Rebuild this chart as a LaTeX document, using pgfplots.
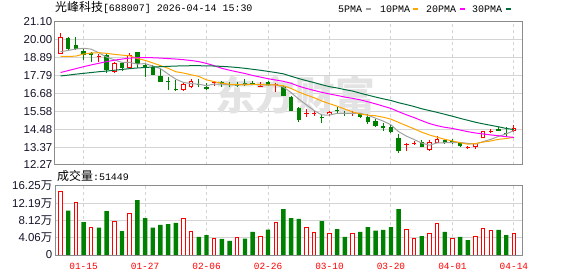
\documentclass[border=0pt]{standalone}
\usepackage{fontspec}
\setmainfont{Liberation Sans}
\newfontfamily\cjk{Noto Sans CJK SC}
\newfontfamily\mono{Liberation Mono}
\usepackage{pgfplots}
\usepackage{pgfplotstable}
\pgfplotsset{compat=1.18}

\definecolor{upred}{RGB}{255,0,0}
\definecolor{downgreen}{RGB}{0,128,0}
\definecolor{maGray}{RGB}{160,160,160}
\definecolor{maOrange}{RGB}{255,165,0}
\definecolor{maPink}{RGB}{255,0,255}
\definecolor{maGreen}{RGB}{0,110,60}
\definecolor{framec}{RGB}{140,140,140}
\definecolor{gridc}{RGB}{212,212,212}
\definecolor{labc}{RGB}{20,20,40}
\definecolor{wmark}{RGB}{227,227,227}

% daily candles: x = trading-day index, o h l c
% falling days (filled green)
\pgfplotstableread{
x  o     h     l     c
1  20.07 20.12 19.35 19.39
2  19.65 20.17 19.35 19.39
3  19.30 19.39 18.73 19.04
4  19.14 19.20 18.63 19.04
6  19.04 19.14 17.95 18.12
8  18.53 18.63 18.05 18.22
10 19.20 19.22 18.22 18.48
11 18.42 18.53 17.67 18.26
12 18.32 18.42 17.78 17.81
13 17.75 18.16 17.38 17.40
14 17.43 17.70 16.89 17.40
15 16.97 17.50 16.85 16.87
18 17.26 17.54 17.05 17.22
19 17.05 17.30 16.89 16.95
21 17.40 17.42 17.10 17.25
22 17.27 17.40 17.10 17.23
23 17.22 17.35 17.05 17.18
24 17.34 17.55 17.15 17.21
25 17.30 17.42 17.20 17.25
27 17.40 17.46 17.13 17.19
29 17.05 17.12 16.50 16.52
30 16.47 16.52 15.58 15.61
31 15.76 15.86 14.94 15.04
34 15.20 15.40 14.85 15.16
36 15.66 15.84 15.48 15.62
37 15.48 15.62 15.30 15.45
39 15.45 15.50 15.18 15.24
40 15.24 15.40 14.80 14.90
41 15.00 15.10 14.60 14.70
42 14.70 14.85 14.35 14.53
43 14.62 14.75 14.22 14.32
44 13.91 14.16 13.03 13.15
47 13.70 13.80 13.36 13.40
50 13.81 13.85 13.55 13.61
51 13.72 13.85 13.55 13.68
52 13.64 13.70 13.40 13.46
57 14.48 14.58 14.38 14.38
58 14.21 14.60 14.01 14.18
}\fallC

% rising days with a visible body (hollow red)
\pgfplotstableread{
x  o     h     l     c
0  19.10 20.37 19.09 20.13
7  18.01 18.63 17.95 18.53
9  18.26 19.14 18.22 19.04
16 16.89 17.33 16.84 17.25
17 17.05 17.54 16.99 17.46
35 15.40 15.62 15.30 15.56
48 13.19 13.81 13.15 13.70
49 13.61 14.06 13.60 13.85
54 13.40 13.62 13.25 13.61
55 13.91 14.38 13.91 14.38
59 14.38 14.73 14.32 14.53
}\riseC

% rising days that close almost at the open (red cross)
\pgfplotstableread{
x  o     h     l     c
5  18.95 19.08 18.63 18.98
20 17.33 17.46 17.15 17.36
26 17.10 17.35 17.05 17.13
28 17.20 17.34 16.78 17.23
32 15.45 15.70 15.22 15.48
33 15.43 15.60 15.30 15.46
38 15.43 15.62 15.30 15.46
45 13.53 13.62 13.15 13.56
46 13.62 13.77 13.50 13.65
53 13.35 13.42 13.28 13.38
56 14.35 14.47 14.22 14.38
}\flatC

% moving averages
\pgfplotstableread{
x  ma5   ma10  ma20  ma30
0  19.24 18.95 17.96 17.75
1  19.32 18.95 18.08 17.80
2  19.41 18.97 18.20 17.86
3  19.45 19.10 18.32 17.91
4  19.40 19.16 18.43 17.96
5  19.17 19.18 18.53 18.01
6  18.91 19.14 18.63 18.05
7  18.74 19.08 18.72 18.10
8  18.58 19.03 18.79 18.15
9  18.58 18.99 18.85 18.20
10 18.48 18.82 18.87 18.24
11 18.51 18.71 18.88 18.27
12 18.36 18.55 18.87 18.30
13 18.20 18.39 18.85 18.32
14 17.87 18.22 18.82 18.34
15 17.55 18.01 18.79 18.36
16 17.35 17.93 18.75 18.37
17 17.28 17.82 18.70 18.38
18 17.24 17.72 18.63 18.38
19 17.15 17.51 18.52 18.37
20 17.25 17.40 18.38 18.36
21 17.25 17.30 18.22 18.34
22 17.20 17.24 18.10 18.31
23 17.19 17.22 18.00 18.27
24 17.25 17.20 17.90 18.22
25 17.22 17.24 17.78 18.16
26 17.20 17.22 17.68 18.10
27 17.19 17.20 17.58 18.03
28 17.20 17.20 17.50 17.96
29 17.06 17.15 17.42 17.88
30 16.73 16.98 17.30 17.73
31 16.32 16.76 17.12 17.59
32 15.97 16.58 16.98 17.46
33 15.62 16.41 16.86 17.34
34 15.35 16.21 16.74 17.21
35 15.34 16.04 16.64 17.09
36 15.45 15.89 16.55 17.01
37 15.45 15.71 16.45 16.91
38 15.45 15.53 16.37 16.82
39 15.46 15.41 16.28 16.69
40 15.33 15.34 16.16 16.57
41 15.15 15.30 16.03 16.45
42 14.97 15.21 15.89 16.34
43 14.74 15.09 15.75 16.24
44 14.32 14.89 15.55 16.10
45 14.05 14.69 15.36 15.99
46 13.84 14.50 15.19 15.87
47 13.62 14.29 15.00 15.73
48 13.49 14.12 14.82 15.62
49 13.63 13.98 14.69 15.51
50 13.64 13.85 14.59 15.39
51 13.65 13.75 14.52 15.27
52 13.66 13.64 14.42 15.14
53 13.60 13.55 14.32 15.02
54 13.56 13.59 14.24 14.90
55 13.71 13.68 14.18 14.80
56 13.85 13.75 14.12 14.71
57 14.03 13.85 14.07 14.62
58 14.19 13.90 14.01 14.52
59 14.38 13.97 13.97 14.45
}\maTab

% volume in units of 10^4
\pgfplotstableread{
x  v
0  15.07
2  12.41
4  6.59
7  8.00
9  9.81
16 8.64
17 5.57
20 3.77
23 4.16
26 4.47
28 7.77
32 6.52
33 5.34
35 5.10
38 5.10
45 6.12
46 4.00
48 5.10
49 7.46
51 3.92
54 4.24
55 6.28
56 5.81
59 5.1449
}\volRise

\pgfplotstableread{
x  v
1  10.43
3  7.77
5  6.43
6  10.36
8  5.65
10 12.95
11 8.71
12 6.43
13 7.07
14 7.30
15 7.54
18 4.24
19 4.71
21 3.77
22 3.30
24 3.84
25 5.42
27 5.96
29 10.83
30 8.71
31 8.48
34 8.00
36 6.12
37 4.24
39 5.42
40 6.59
41 5.73
42 5.89
43 6.59
44 10.83
47 4.47
50 5.42
52 4.24
53 3.53
57 5.89
58 4.71
}\volFall

\pgfplotsset{
  panel/.style={
    scale only axis, width=467bp,
    xmin=-0.72, xmax=60.05,
    axis line style={draw=framec, line width=1bp},
    major tick length=0pt,
    xtick={3,11,19,27,35,43,51,59},
    xmajorgrids, ymajorgrids,
    x grid style={gridc, line width=1bp, dash pattern=on 3bp off 3bp},
    y grid style={gridc, line width=1bp},
    yticklabel style={font=\fontsize{11.5}{12}\selectfont, text=labc,
      anchor=east, inner sep=0pt, xshift=-2.5bp},
  },
  % a vertical stick from each point, no marker and no connecting line
  stick/.style 2 args={draw=none, no markers,
    error bars/.cd, y dir=plus, y explicit, error mark=none,
    error bar style={line width=#2, draw=#1, line cap=butt}},
  hollowinside/.style={draw=none, no markers,
    error bars/.cd, y dir=plus, y explicit, error mark=none,
    error bar style={line width=2.4bp, draw=white, line cap=butt,
      shorten <=1bp, shorten >=1bp}},
}

\begin{document}
\begin{tikzpicture}
\useasboundingbox (0,0) rectangle (578bp,276bp);

% heading
\node[anchor=base west, inner sep=0pt, text=black] at (55bp,264bp)
  {{\cjk\fontsize{12}{12}\selectfont 光峰科技}{\mono\fontsize{10}{10}\selectfont [688007] 2026-04-14 15:30}};

% moving-average key
\begin{scope}[every node/.style={anchor=base west, inner sep=0pt, font=\mono\fontsize{10}{10}\selectfont}]
  \node at (338bp,263bp) {5PMA};
  \fill[maGray] (366bp,265.5bp) rectangle (371bp,268bp);
  \node at (380bp,263bp) {10PMA};
  \fill[maOrange] (413bp,265.5bp) rectangle (418bp,268bp);
  \node at (426bp,263bp) {20PMA};
  \fill[maPink] (460bp,265.5bp) rectangle (465bp,268bp);
  \node at (472bp,263bp) {30PMA};
  \fill[maGreen] (506bp,265.5bp) rectangle (511bp,268bp);
\end{scope}

% price panel
\begin{axis}[panel, at={(55bp,111bp)}, anchor=south west, height=143.5bp,
  ymin=12.27, ymax=21.10,
  xticklabels={},
  ytick={12.27,13.37375,14.4775,15.58125,16.685,17.78875,18.8925,19.99625,21.10},
  yticklabels={12.27,13.37,14.48,15.58,16.68,17.79,18.89,20.00,21.10},
]
  \node[text=wmark, font=\cjk\bfseries\fontsize{40}{40}\selectfont, inner sep=0pt]
    at (rel axis cs:0.515,0.49) {东方财富};

  % wicks
  \addplot[stick={downgreen}{1bp}] table[x=x, y=l, y error expr=\thisrow{h}-\thisrow{l}] {\fallC};
  \addplot[stick={upred}{1bp}] table[x=x, y=l, y error expr=\thisrow{h}-\thisrow{l}] {\riseC};
  \addplot[stick={upred}{1bp}] table[x=x, y=l, y error expr=\thisrow{h}-\thisrow{l}] {\flatC};
  % bodies
  \addplot[stick={downgreen}{4.4bp}] table[x=x, y=c, y error expr=\thisrow{o}-\thisrow{c}] {\fallC};
  \addplot[stick={upred}{4.4bp}] table[x=x, y=o, y error expr=\thisrow{c}-\thisrow{o}] {\flatC};
  \addplot[stick={upred}{4.4bp}] table[x=x, y=o, y error expr=\thisrow{c}-\thisrow{o}] {\riseC};
  \addplot[hollowinside] table[x=x, y=o, y error expr=\thisrow{c}-\thisrow{o}] {\riseC};

  % averages
  \addplot[maGray, line width=1bp, mark=none] table[x=x, y=ma5] {\maTab};
  \addplot[maOrange, line width=1bp, mark=none] table[x=x, y=ma10] {\maTab};
  \addplot[maPink, line width=1bp, mark=none] table[x=x, y=ma20] {\maTab};
  \addplot[maGreen, line width=1bp, mark=none] table[x=x, y=ma30] {\maTab};
\end{axis}

% volume heading
\node[anchor=base west, inner sep=0pt, text=black] at (57bp,95bp)
  {{\cjk\fontsize{12}{12}\selectfont 成交量}{\mono\fontsize{10}{10}\selectfont :51449}};

% volume panel
\begin{axis}[panel, at={(55bp,21bp)}, anchor=south west, height=69bp,
  ymin=0, ymax=16.25,
  ytick={0,4.0625,8.125,12.1875,16.25},
  yticklabels={0,4.06{\cjk 万},8.12{\cjk 万},12.19{\cjk 万},16.25{\cjk 万}},
  xticklabels={01-15,01-27,02-06,02-26,03-10,03-20,04-01,04-14},
  xticklabel style={font=\mono\fontsize{9.5}{10}\selectfont, text=upred,
    anchor=north, inner sep=0pt, yshift=-7.5bp},
]
  \addplot[ybar, bar width=4.4bp, bar shift=0pt, fill=downgreen, draw=none]
    table[x=x, y=v] {\volFall};
  \addplot[ybar, bar width=3.4bp, bar shift=0pt, fill=white, draw=upred, line width=1bp]
    table[x=x, y=v] {\volRise};
\end{axis}
\end{tikzpicture}
\end{document}
